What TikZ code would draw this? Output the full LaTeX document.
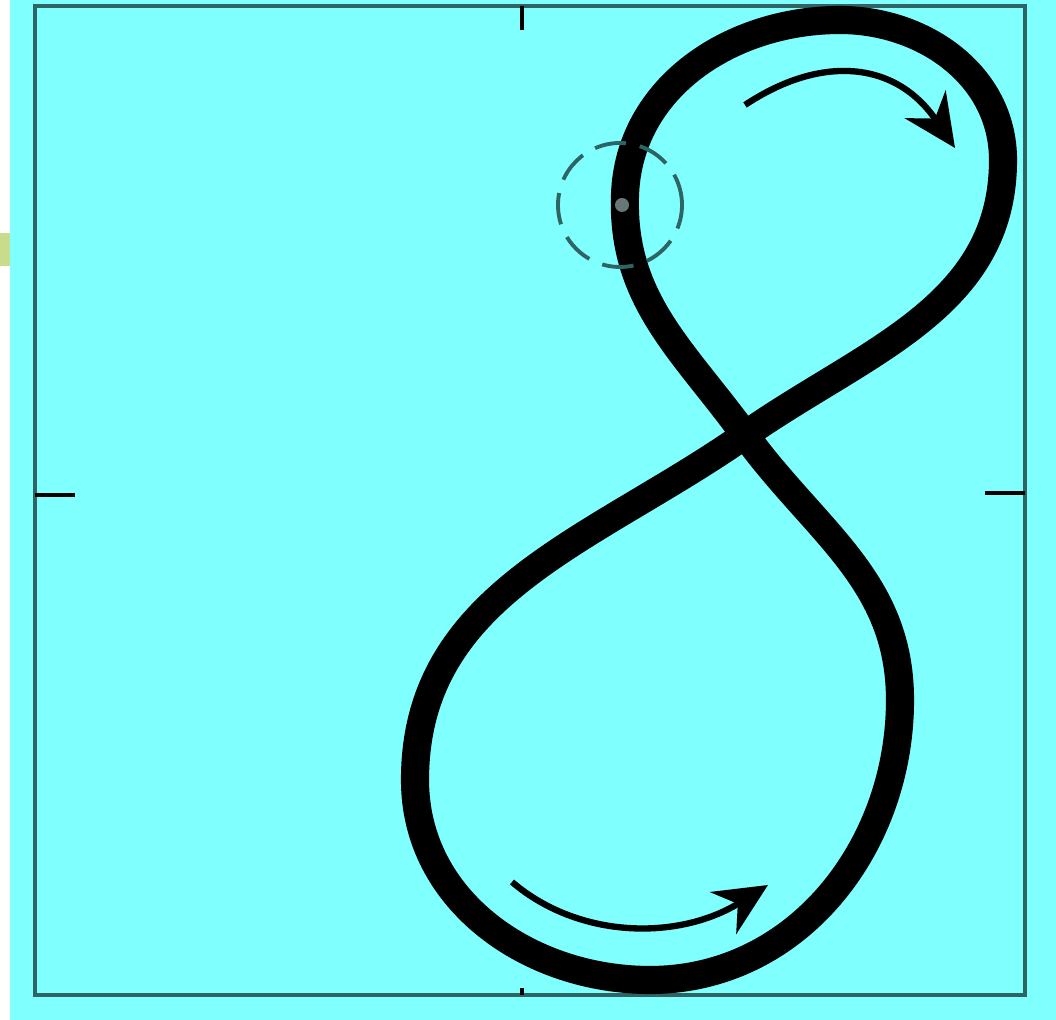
\documentclass[tikz,border=0pt]{standalone}
\usetikzlibrary{arrows.meta}
\definecolor{bgcyan}{HTML}{80FFFF}
\definecolor{framecol}{HTML}{2E6464}
\definecolor{patch}{HTML}{C8DC8C}
\begin{document}
\begin{tikzpicture}[
    frame/.style={draw=framecol, line width=1.4pt},
    tick/.style={draw=black, line width=1.2pt},
    loopline/.style={draw=black, line width=8pt},
    flow/.style={draw=black, line width=1.8pt, -{Stealth[length=15pt,width=14pt]}},
    marker/.style={draw=framecol, line width=1.1pt, dash pattern=on 9pt off 4pt}
]

% Page and background
\useasboundingbox (0,0) rectangle (10.56,-10.20);
\fill[white] (0,0) rectangle (10.56,-10.20);
\fill[bgcyan] (0.10,0) rectangle (10.56,-10.20);
\fill[patch] (0,-2.33) rectangle (0.10,-2.66);

% Frame with ticks
\draw[frame] (0.35,-0.06) rectangle (10.25,-9.95);
\draw[tick] (5.22,-0.06) -- (5.22,-0.30);
\draw[tick] (0.35,-4.95) -- (0.75,-4.95);
\draw[tick] (9.85,-4.93) -- (10.25,-4.93);
\draw[tick] (5.22,-9.88) -- (5.22,-9.95);

% Figure-eight orbit
\coordinate (cross) at (7.45,-4.35);
\coordinate (upright) at (10.03,-1.6);
\coordinate (uptop) at (8.4,-0.2);
\coordinate (upleft) at (6.25,-1.95);
\coordinate (lowright) at (9.0,-7.0);
\coordinate (lowbottom) at (6.5,-9.8);
\coordinate (lowleft) at (4.15,-7.8);
\draw[loopline] (cross) to[out=35,in=-90] (upright)
    to[out=90,in=0] (uptop)
    to[out=180,in=88] (upleft)
    to[out=-92,in=126] (cross)
    to[out=-54,in=90] (lowright)
    to[out=-90,in=0] (lowbottom)
    to[out=180,in=-90] (lowleft)
    to[out=90,in=215] (cross);

% Starting point
\fill[gray!70!framecol] (6.22,-2.05) circle (0.07);
\draw[marker] (6.20,-2.05) circle (0.62);

% Direction arrows
\draw[flow] (7.45,-1.05) .. controls (8.2,-0.55) and (8.95,-0.6) .. (9.55,-1.48);
\draw[flow] (5.12,-8.82) .. controls (5.8,-9.4) and (6.8,-9.4) .. (7.68,-8.85);

\end{tikzpicture}
\end{document}
